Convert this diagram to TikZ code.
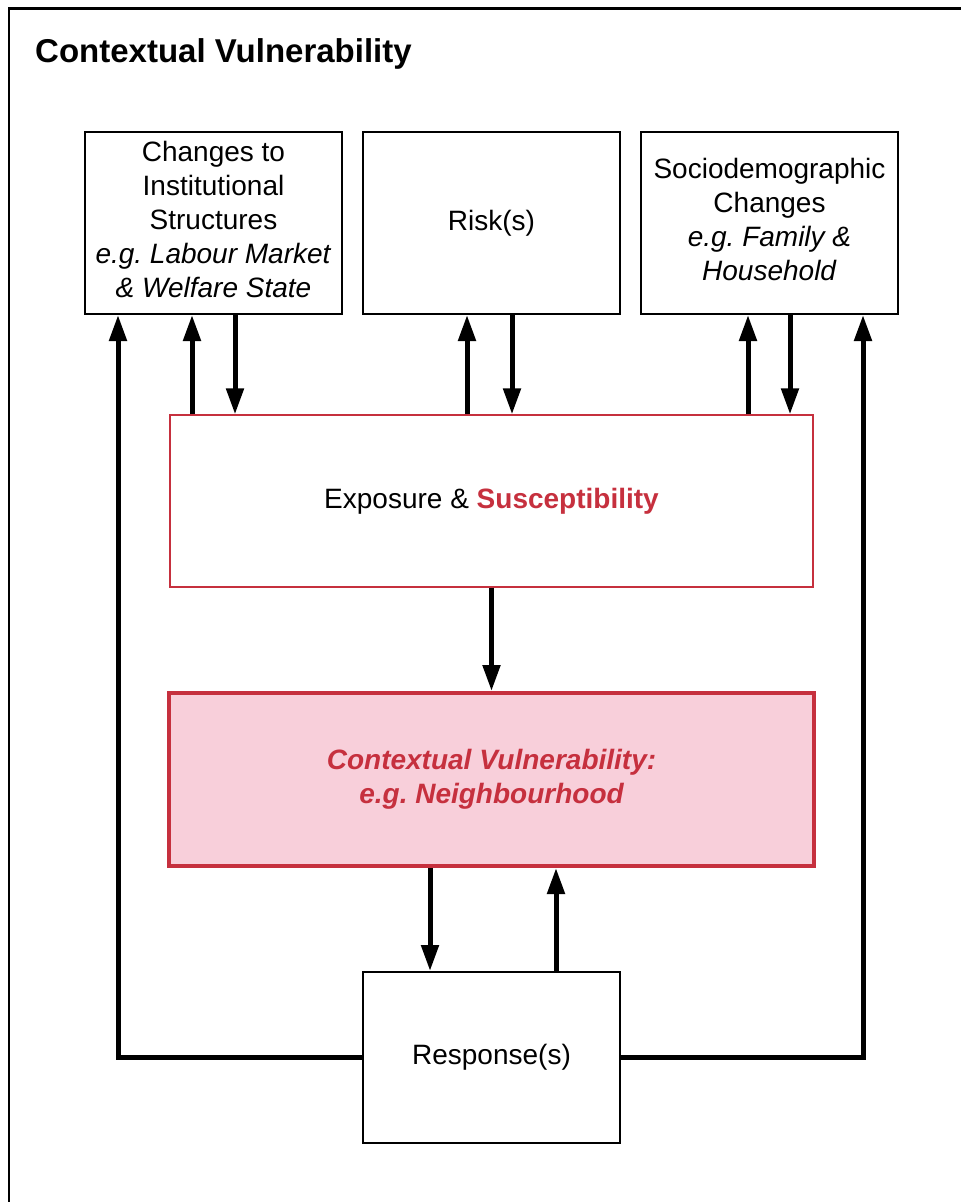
\documentclass[tikz,border=0pt]{standalone}
\usepackage{fontspec}
\setmainfont{Liberation Sans}
\usetikzlibrary{arrows.meta}
\definecolor{cvred}{RGB}{198,48,62}
\definecolor{cvpink}{RGB}{248,207,218}
\tikzset{
  box/.style={draw=black, line width=2pt, fill=white, align=center, inner sep=0pt,
    font=\fontsize{28}{34}\selectfont},
  arr/.style={line width=5pt, -{Triangle[width=17pt,length=26pt]}},
  frameline/.style={line width=2.5pt, line cap=rect}
}
\frenchspacing
\begin{document}
\begin{tikzpicture}[x=1pt,y=-1pt]
\useasboundingbox (0,0) rectangle (961,1202);
\fill[white] (0,0) rectangle (961,1202);
% outer frame (top and left edges visible)
\draw[frameline] (9,1210) -- (9,8.5) -- (970,8.5);
\node[anchor=base west, inner sep=0pt, font=\fontsize{33}{40}\selectfont\bfseries] (title) at (35,62) {Contextual Vulnerability};

% boxes
\node[box, minimum width=257pt, minimum height=182pt, text depth=8pt] (inst) at (213.5,223)
  {Changes to\\Institutional\\Structures\\\textit{e.g. Labour Market}\\\textit{\& Welfare State}};
\node[box, minimum width=257pt, minimum height=182pt] (risk) at (491.5,223) {Risk(s)};
\node[box, minimum width=257pt, minimum height=182pt, text depth=8pt] (socio) at (769.5,223)
  {Sociodemographic\\Changes\\\textit{e.g. Family \&}\\\textit{Household}};
\node[box, draw=cvred, line width=1.3pt, minimum width=643pt, minimum height=172pt] (expo) at (491.5,501)
  {Exposure \& \textcolor{cvred}{\bfseries Susceptibility}};
\node[box, draw=cvred, fill=cvpink, line width=4pt, minimum width=645pt, minimum height=173pt,
  text=cvred, font=\fontsize{28}{34}\selectfont\bfseries\itshape] (cv) at (491.5,779.5)
  {Contextual Vulnerability:\\e.g. Neighbourhood};
\node[box, minimum width=257pt, minimum height=171pt] (resp) at (491.5,1057.5) {Response(s)};

% column coordinates
\coordinate (cA) at (118,0);
\coordinate (cB) at (192,0);
\coordinate (cC) at (235,0);
\coordinate (cD) at (467,0);
\coordinate (cE) at (512,0);
\coordinate (cF) at (748,0);
\coordinate (cG) at (790,0);
\coordinate (cH) at (863,0);
\coordinate (cI) at (430,0);
\coordinate (cJ) at (556,0);

% arrows between top row and exposure
\draw[arr] (expo.north -| cB) -- (inst.south -| cB);
\draw[arr] (inst.south -| cC) -- (expo.north -| cC);
\draw[arr] (expo.north -| cD) -- (risk.south -| cD);
\draw[arr] (risk.south -| cE) -- (expo.north -| cE);
\draw[arr] (expo.north -| cF) -- (socio.south -| cF);
\draw[arr] (socio.south -| cG) -- (expo.north -| cG);

% exposure to contextual vulnerability
\draw[arr] (expo.south) -- (cv.north);

% cv and response
\draw[arr] (cv.south -| cI) -- (resp.north -| cI);
\draw[arr] (resp.north -| cJ) -- (cv.south -| cJ);

% feedback loops
\draw[arr] (resp.west) -| (inst.south -| cA);
\draw[arr] (resp.east) -| (socio.south -| cH);
\end{tikzpicture}
\end{document}
